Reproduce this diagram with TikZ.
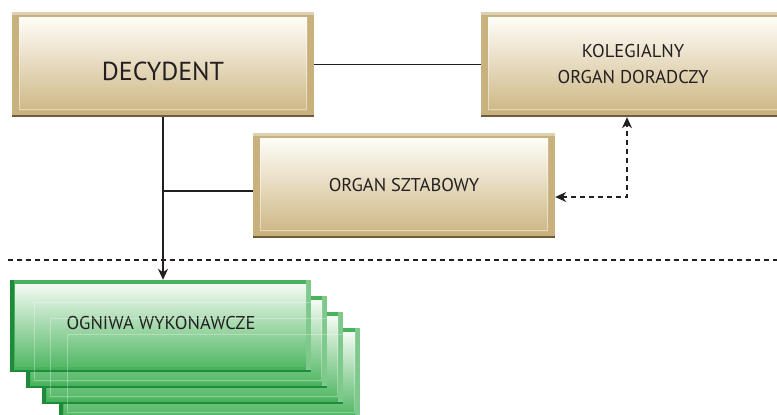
\documentclass[tikz,border=0pt]{standalone}
\usepackage{fontspec}
\setmainfont{PT Sans}
\usetikzlibrary{arrows.meta}
\definecolor{tanB}{HTML}{C9B17D}
\definecolor{tanTop}{HTML}{FFFDF9}
\definecolor{tanBot}{HTML}{CEB886}
\definecolor{tanDark}{HTML}{6E5C3B}
\definecolor{grB}{HTML}{48B25C}
\definecolor{grDark}{HTML}{1E8A3A}
\definecolor{grTop}{HTML}{F3FAF3}
\definecolor{grBot}{HTML}{55B967}
\definecolor{ink}{HTML}{231F20}
\tikzset{
  tanbox/.style={rectangle, inner sep=0pt, minimum width=302pt, minimum height=105pt,
    fill=tanB, text=ink, align=center,
    path picture={
      \fill[tanB!60!white] (path picture bounding box.north west) rectangle ([yshift=-3pt]path picture bounding box.north east);
      \shade[top color=tanTop, bottom color=tanBot]
        ([xshift=7pt,yshift=-5pt]path picture bounding box.north west) rectangle
        ([xshift=-7pt,yshift=7pt]path picture bounding box.south east);
      \draw[white, opacity=0.45, line width=0.5pt]
        ([xshift=7.5pt,yshift=-5.5pt]path picture bounding box.north west) rectangle
        ([xshift=-7.5pt,yshift=7.5pt]path picture bounding box.south east);
      \fill[tanDark] (path picture bounding box.south west) rectangle ([yshift=2pt]path picture bounding box.south east);
    }},
  grbox/.style={rectangle, inner sep=0pt, minimum width=301pt, minimum height=92pt,
    fill=grB, text=ink,
    path picture={
      \fill[grB!70!white] ([xshift=-5pt]path picture bounding box.north east) rectangle (path picture bounding box.south east);
      \fill[grDark] (path picture bounding box.north west) rectangle ([xshift=4pt]path picture bounding box.south west);
      \shade[top color=grTop, bottom color=grBot]
        ([xshift=5pt,yshift=-4pt]path picture bounding box.north west) rectangle
        ([xshift=-5pt,yshift=6pt]path picture bounding box.south east);
      \fill[grDark] (path picture bounding box.south west) rectangle ([yshift=2pt]path picture bounding box.south east);
    }},
  ghost/.style={draw=white, opacity=0.3, line width=0.6pt},
  conn/.style={draw=ink, line width=1.5pt},
  dconn/.style={draw=ink, line width=1.4pt, dash pattern=on 5pt off 4pt},
  tip/.style={-{Stealth[length=11pt,width=10pt,inset=3.5pt]}},
  bigtxt/.style={font=\fontsize{26}{30}\selectfont, text=ink},
  smalltxt/.style={font=\fontsize{18.5}{26}\selectfont, text=ink, align=center}
}
\begin{document}
\begin{tikzpicture}[x=1pt,y=-1pt]
\useasboundingbox (0,0) rectangle (777,415);
% separator
\coordinate (sepL) at (8,260);
\coordinate (sepR) at (777,260);
\draw[dconn] (sepL) -- (sepR);
% boxes
\node[tanbox] (dec) at (163,64.5) {};
\node[bigtxt] (dectxt) at (163,71) {DECYDENT};
\node[tanbox, smalltxt, minimum width=304pt] (kol) at (633,64.5) {KOLEGIALNY\\ORGAN DORADCZY};
\node[tanbox, smalltxt] (szt) at (404,185.5) {ORGAN SZTABOWY};
% green stack
\node[grbox] (g4) at (209.5,374) {};
\node[grbox] (g3) at (192.5,358) {};
\node[grbox] (g2) at (176.5,342) {};
\node[grbox] (g1) at (160.5,326) {};
\node[smalltxt] (g1txt) at (161,323) {OGNIWA WYKONAWCZE};
\draw[ghost] ([xshift=8pt,yshift=-6pt]g2.north west) rectangle ([xshift=-6pt,yshift=8pt]g2.south east);
\draw[ghost] ([xshift=8pt,yshift=-6pt]g3.north west) rectangle ([xshift=-6pt,yshift=8pt]g3.south east);
\draw[ghost] ([xshift=8pt,yshift=-6pt]g4.north west) rectangle ([xshift=-6pt,yshift=8pt]g4.south east);
% connectors
\draw[conn] (dec.east) -- (kol.west);
\coordinate (top) at (163,117);
\draw[conn, tip] (dec.south -| top) -- (g1.north -| top);
\coordinate (jn) at (163,191);
\draw[conn] (jn) -- (szt.west |- jn);
\coordinate (corner) at (627,197);
\draw[dconn, {Stealth[length=11pt,width=10pt,inset=3.5pt]}-{Stealth[length=11pt,width=10pt,inset=3.5pt]}]
  (szt.east |- corner) -- (corner) -- (kol.south -| corner);
\end{tikzpicture}
\end{document}
